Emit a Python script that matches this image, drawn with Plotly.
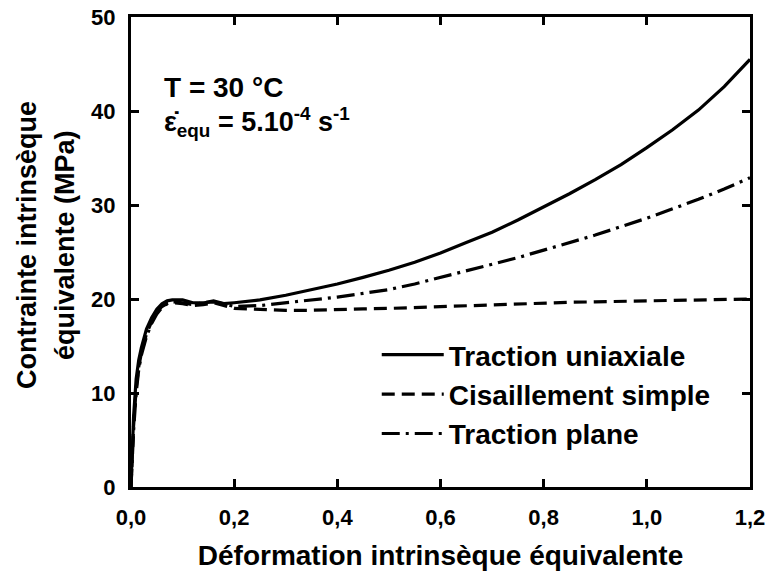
import plotly.graph_objects as go

# ---------------- data ----------------
strain = [0.0, 0.005, 0.01, 0.015, 0.02, 0.03, 0.04, 0.05, 0.06, 0.07, 0.08,
          0.10, 0.12, 0.14, 0.16, 0.18, 0.20, 0.25, 0.30, 0.35, 0.40, 0.45,
          0.50, 0.55, 0.60, 0.65, 0.70, 0.75, 0.80, 0.85, 0.90, 0.95, 1.00,
          1.05, 1.10, 1.15, 1.20]

stress_uniaxial = [0.0, 7.5, 11.5, 13.5, 14.8, 16.8, 18.0, 18.9, 19.5, 19.8, 19.9,
                   19.9, 19.6, 19.6, 19.7, 19.5, 19.6, 19.9, 20.4, 21.0, 21.6, 22.3,
                   23.05, 23.9, 24.9, 26.0, 27.1, 28.4, 29.8, 31.2, 32.7, 34.3, 36.1,
                   38.0, 40.1, 42.6, 45.5]

stress_shear = [0.0, 6.5, 10.5, 12.8, 14.2, 16.3, 17.6, 18.6, 19.2, 19.5, 19.6,
                19.5, 19.3, 19.4, 19.6, 19.3, 19.0, 18.9, 18.8, 18.8, 18.9, 18.95,
                19.0, 19.1, 19.2, 19.3, 19.4, 19.5, 19.6, 19.65, 19.7, 19.75, 19.8,
                19.85, 19.9, 19.95, 20.0]

stress_plane = [0.0, 6.0, 10.0, 12.5, 14.0, 16.0, 17.4, 18.4, 19.1, 19.5, 19.7,
                19.6, 19.4, 19.6, 19.8, 19.5, 19.2, 19.3, 19.6, 19.9, 20.2, 20.6,
                21.0, 21.6, 22.3, 23.0, 23.7, 24.4, 25.2, 26.0, 26.8, 27.7, 28.6,
                29.6, 30.6, 31.7, 32.9]

series_names = ["Traction uniaxiale", "Cisaillement simple", "Traction plane"]

x_tickvals = [0.0, 0.2, 0.4, 0.6, 0.8, 1.0, 1.2]
x_ticktext = ["0,0", "0,2", "0,4", "0,6", "0,8", "1,0", "1,2"]
y_tickvals = [0, 10, 20, 30, 40, 50]
y_ticktext = ["0", "10", "20", "30", "40", "50"]

# ---------------- figure ----------------
FONT = "Arial, 'Liberation Sans', sans-serif"

fig = go.Figure()
fig.add_trace(go.Scatter(x=strain, y=stress_uniaxial, mode="lines",
                         name=series_names[0],
                         line=dict(color="black", width=3.2, dash="solid")))
fig.add_trace(go.Scatter(x=strain, y=stress_shear, mode="lines",
                         name=series_names[1],
                         line=dict(color="black", width=3.2, dash="13px,7px")))
fig.add_trace(go.Scatter(x=strain, y=stress_plane, mode="lines",
                         name=series_names[2],
                         line=dict(color="black", width=3.2, dash="18px,6px,3px,6px")))

axis_common = dict(
    showline=True, linecolor="black", linewidth=3, mirror="ticks",
    ticks="inside", ticklen=8, tickwidth=3, tickcolor="black",
    showgrid=False, zeroline=False, automargin=False,
    tickfont=dict(family=FONT, size=22, color="black", weight="bold"),
)

fig.update_layout(
    width=767, height=571,
    margin=dict(l=131, r=17, t=17, b=84),
    paper_bgcolor="white", plot_bgcolor="white",
    font=dict(family=FONT, color="black"),
    xaxis=dict(range=[0, 1.2], tickvals=x_tickvals, ticktext=x_ticktext,
               ticklabelstandoff=9,
               title=dict(text="Déformation intrinsèque équivalente",
                          font=dict(family=FONT, size=28, color="black", weight="bold"),
                          standoff=20),
               **axis_common),
    yaxis=dict(range=[0, 50], tickvals=y_tickvals, ticktext=y_ticktext,
               ticklabelstandoff=8, **axis_common),
    legend=dict(x=0.397, y=0.334, xanchor="left", yanchor="top",
                bgcolor="rgba(0,0,0,0)", itemwidth=62, tracegroupgap=0,
                font=dict(family=FONT, size=28, color="black", weight="bold")),
    showlegend=True,
)

# y-axis title on two lines
fig.add_annotation(text="Contrainte intrinsèque", xref="paper", yref="paper",
                   x=0, y=0.515, xshift=-104, textangle=-90, showarrow=False,
                   xanchor="center", yanchor="middle",
                   font=dict(family=FONT, size=27, color="black", weight="bold"))
fig.add_annotation(text="équivalente (MPa)", xref="paper", yref="paper",
                   x=0, y=0.515, xshift=-66, textangle=-90, showarrow=False,
                   xanchor="center", yanchor="middle",
                   font=dict(family=FONT, size=27, color="black", weight="bold"))

# conditions text
fig.add_annotation(text="T = 30 °C", xref="paper", yref="paper",
                   x=0, y=0.851, xshift=31, showarrow=False,
                   xanchor="left", yanchor="middle",
                   font=dict(family=FONT, size=28, color="black", weight="bold"))
fig.add_annotation(text="ε̇<sub>equ</sub> = 5.10<sup>-4</sup> s<sup>-1</sup>",
                   xref="paper", yref="paper",
                   x=0, y=0.777, xshift=31, showarrow=False,
                   xanchor="left", yanchor="middle",
                   font=dict(family=FONT, size=27, color="black", weight="bold"))

# remove the browser's default 8px body margin so the figure sits at (0, 0)
fig.write_html("out.html",
               config={"displayModeBar": False},
               post_script="document.body.style.margin='0px';")
